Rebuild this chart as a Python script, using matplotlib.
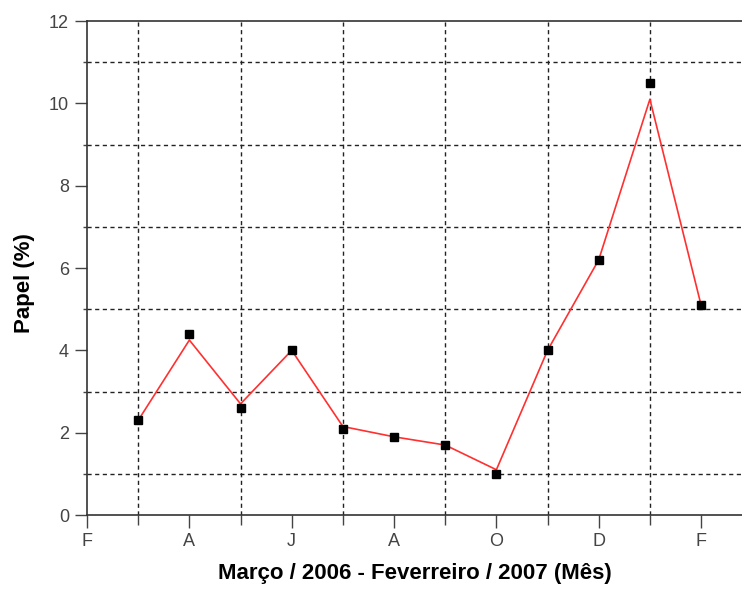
import numpy as np
import matplotlib.pyplot as plt
from matplotlib.ticker import MultipleLocator

plt.rcParams['font.family'] = ['Liberation Sans', 'DejaVu Sans']

# months Mar/2006 .. Feb/2007 (position 0 = Feb/2006)
months = np.arange(1, 13)
papel = [2.3, 4.4, 2.6, 4.0, 2.1, 1.9, 1.7, 1.0, 4.0, 6.2, 10.5, 5.1]
# smoothed red curve
papel_fit = [2.3, 4.25, 2.7, 4.0, 2.15, 1.9, 1.7, 1.1, 4.0, 6.2, 10.1, 5.1]
tick_pos = [0, 2, 4, 6, 8, 10, 12]
tick_labels = ['F', 'A', 'J', 'A', 'O', 'D', 'F']

fig = plt.figure(figsize=(7.42, 5.89), dpi=100)
ax = fig.add_axes([0.1173, 0.1256, 0.8827, 0.8387])

ax.plot(months, papel_fit, color='#ff3030', lw=1.2, zorder=3)
ax.plot(months, papel, ls='none', marker='s', ms=6, color='black', zorder=4)

ax.set_xlim(0, 12.8)
ax.set_ylim(0, 12)
ax.set_xticks(tick_pos)
ax.set_xticklabels(tick_labels)
ax.xaxis.set_minor_locator(MultipleLocator(1))
ax.yaxis.set_major_locator(MultipleLocator(2))
ax.yaxis.set_minor_locator(MultipleLocator(1))

ax.grid(which='minor', color='#222222', linestyle=(0, (3, 2.5)), lw=1)
ax.tick_params(which='major', direction='out', length=9, width=1,
               colors='#444444', labelsize=13, pad=4)
ax.tick_params(axis='x', which='minor', direction='out', length=7, width=1, color='#444444')
ax.tick_params(axis='y', which='minor', direction='out', length=3, width=1, color='#444444')

ax.spines['right'].set_visible(False)
for s in ['left', 'top', 'bottom']:
    ax.spines[s].set_color('#333333')
    ax.spines[s].set_linewidth(1.2)

ax.set_ylabel('Papel (%)', fontsize=16, fontweight='bold')
ax.yaxis.set_label_coords(-0.08, 0.47)
ax.set_xlabel('Março / 2006 - Feverreiro / 2007 (Mês)', fontsize=16,
              fontweight='bold', labelpad=9)

plt.savefig('out.png')
